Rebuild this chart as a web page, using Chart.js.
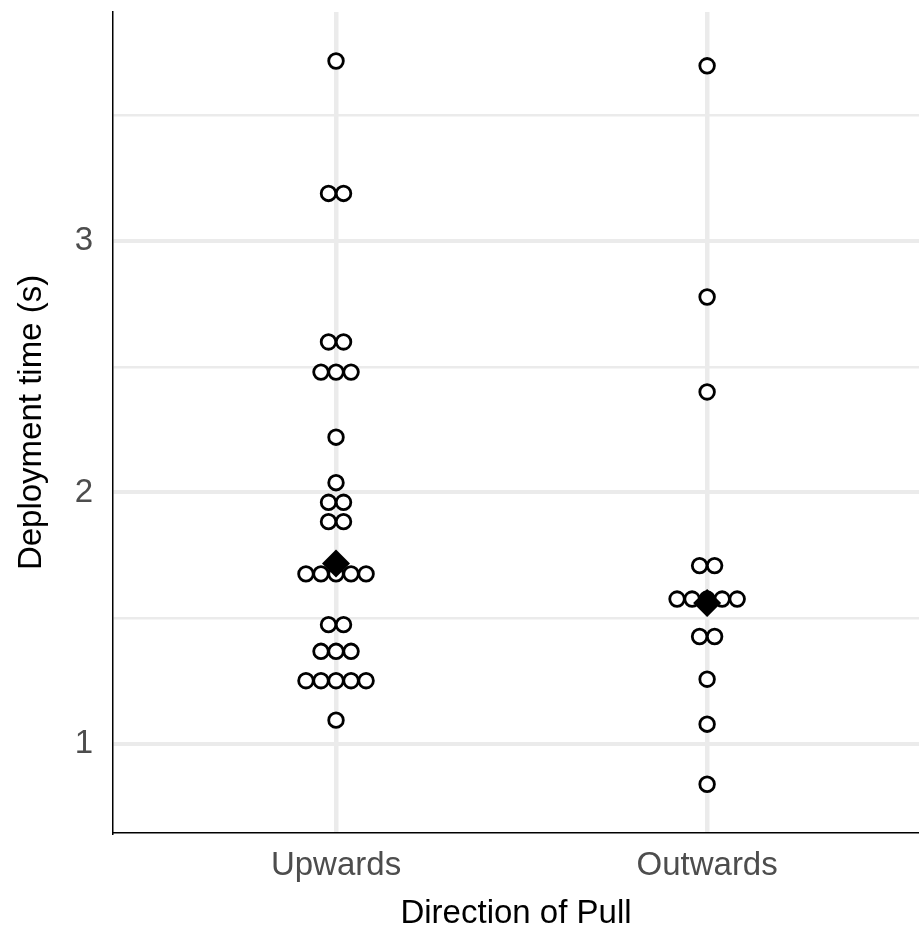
<!DOCTYPE html>
<html lang="en">
<head>
  <meta charset="UTF-8" />
  <title>Deployment time by direction of pull</title>
  <script src="https://cdn.jsdelivr.net/npm/chart.js"></script>
  <style>
    html, body { margin: 0; padding: 0; background: #fff; overflow: hidden; }
    #wrap { width: 919px; height: 930px; position: relative; }
    #wrap canvas { display: block; }
  </style>
</head>
<body>
  <div id="wrap"><canvas id="dotChart"></canvas></div>

  <script>
    // values (seconds)
    const categories = ['Upwards', 'Outwards'];
    const upwardsTimes = [
      3.717, 3.19, 3.19, 2.599, 2.599, 2.479, 2.479, 2.479, 2.22, 2.039,
      1.961, 1.961, 1.884, 1.884, 1.676, 1.676, 1.676, 1.676, 1.676,
      1.474, 1.474, 1.368, 1.368, 1.368, 1.251, 1.251, 1.251, 1.251, 1.251, 1.094
    ];
    const outwardsTimes = [
      3.698, 2.778, 2.4, 1.709, 1.709, 1.576, 1.576, 1.576, 1.576, 1.576,
      1.427, 1.427, 1.257, 1.078, 0.839
    ];
    const medianTimes = [1.717, 1.56];
    const yTickValues = [1, 1.5, 2, 2.5, 3, 3.5];

    const FONT = '"Liberation Sans", Arial, Helvetica, sans-serif';
    const DOT_STEP = 0.0405; // horizontal gap between stacked dots, in x units

    // stack equal values side by side, centred on the category
    function stackDots(values, catPos) {
      const counts = {};
      values.forEach(v => { counts[v] = (counts[v] || 0) + 1; });
      const seen = {};
      return values.map(v => {
        const i = seen[v] || 0;
        seen[v] = i + 1;
        return { x: catPos + (i - (counts[v] - 1) / 2) * DOT_STEP, y: v };
      });
    }

    const dotStyle = {
      type: 'scatter',
      pointRadius: 7.3,
      pointHoverRadius: 7.3,
      pointBorderWidth: 2.8,
      pointBackgroundColor: '#ffffff',
      pointBorderColor: '#000000',
      order: 2
    };

    new Chart(document.getElementById('dotChart'), {
      type: 'scatter',
      data: {
        datasets: [
          {
            label: 'Median',
            data: medianTimes.map((v, i) => ({ x: i + 1, y: v })),
            pointStyle: 'rectRot',
            pointRadius: 14,
            pointHoverRadius: 14,
            pointBorderWidth: 0,
            pointBackgroundColor: '#000000',
            pointBorderColor: '#000000',
            order: 1
          },
          Object.assign({ label: categories[0], data: stackDots(upwardsTimes, 1) }, dotStyle),
          Object.assign({ label: categories[1], data: stackDots(outwardsTimes, 2) }, dotStyle)
        ]
      },
      options: {
        responsive: true,
        maintainAspectRatio: false,
        animation: false,
        events: [],
        layout: { autoPadding: false, padding: { top: 12, right: 0, left: 0, bottom: 0 } },
        plugins: {
          legend: { display: false },
          tooltip: { enabled: false }
        },
        scales: {
          x: {
            type: 'linear',
            min: 0.399,
            max: 2.571,
            afterBuildTicks: s => { s.ticks = [{ value: 1 }, { value: 2 }]; },
            afterFit: s => {
              s.height = 97;
              s.paddingLeft = 0;
              s.paddingRight = 0;
            },
            ticks: {
              autoSkip: false,
              maxRotation: 0,
              padding: 13,
              color: '#4d4d4d',
              font: { family: FONT, size: 33 },
              callback: v => categories[v - 1]
            },
            grid: { color: '#ebebeb', lineWidth: 4.5, drawTicks: false },
            border: { display: true, color: '#000000', width: 1.5 },
            title: {
              display: true,
              text: 'Direction of Pull',
              color: '#000000',
              font: { family: FONT, size: 33 },
              padding: { top: 0, bottom: -4 }
            }
          },
          y: {
            min: 0.645,
            max: 3.912,
            afterBuildTicks: s => { s.ticks = yTickValues.map(v => ({ value: v })); },
            afterFit: s => {
              s.width = 113;
              s.paddingTop = 0;
              s.paddingBottom = 0;
            },
            ticks: {
              autoSkip: false,
              padding: 20,
              color: '#4d4d4d',
              font: { family: FONT, size: 33 },
              callback: v => Number.isInteger(v) ? String(v) : ''
            },
            grid: {
              color: '#ebebeb',
              lineWidth: ctx => Number.isInteger(ctx.tick.value) ? 4 : 2.5,
              drawTicks: false
            },
            border: { display: true, color: '#000000', width: 1.5 },
            title: {
              display: true,
              text: 'Deployment time (s)',
              color: '#000000',
              font: { family: FONT, size: 33 },
              padding: { top: 12, bottom: 0 }
            }
          }
        }
      }
    });
  </script>
</body>
</html>
